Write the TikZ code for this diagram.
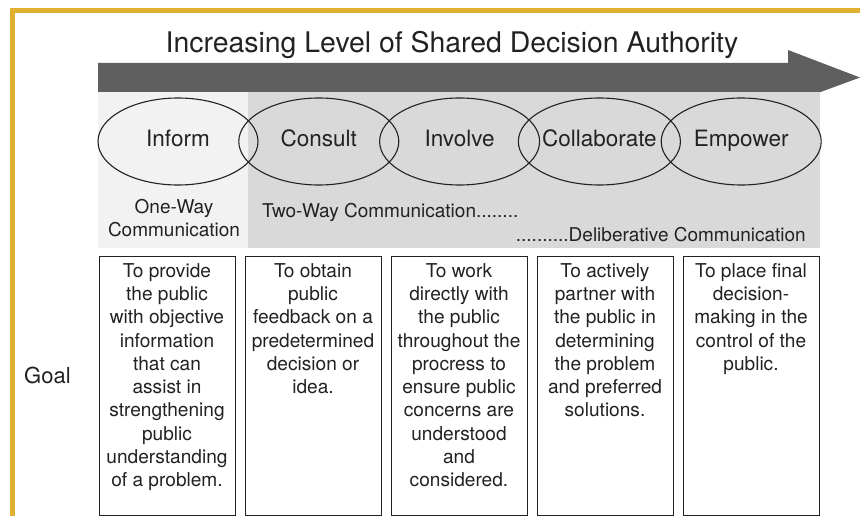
\documentclass[tikz,border=0pt]{standalone}
\usepackage{fontspec}
\setmainfont{TeX Gyre Heros}
\usetikzlibrary{shapes.geometric}
\definecolor{framegold}{HTML}{E0B032}
\definecolor{inkgray}{HTML}{222222}
\definecolor{arrowgray}{HTML}{5F5F5F}
\definecolor{panellight}{HTML}{F2F2F2}
\definecolor{paneldark}{HTML}{D9D9D9}
\tikzset{
  levelellipse/.style={ellipse, draw=inkgray, line width=1.1pt, minimum width=160pt,
    minimum height=87pt, inner sep=0pt, text=inkgray, text height=14pt, text depth=3pt,
    font=\fontsize{22.5}{26}\selectfont},
  goalbox/.style={rectangle, draw=inkgray, line width=1.2pt, anchor=north west,
    minimum width=136pt, minimum height=259pt, inner sep=0pt},
  goaltext/.style={anchor=north, align=center, inner sep=0pt, text=inkgray,
    font=\fontsize{19.1}{23.3}\selectfont},
  commtext/.style={inner sep=0pt, text=inkgray, font=\fontsize{19}{23}\selectfont},
}
\begin{document}
\begin{tikzpicture}[x=1pt,y=-1pt]
\useasboundingbox (0,0) rectangle (860,516);
\fill[white] (0,0) rectangle (860,516);
% gold frame, cut at the right and bottom edges
\draw[framegold, line width=5pt] (12.5,516) -- (12.5,10.5) -- (860,10.5);

% title
\node[anchor=base, inner sep=0pt, text=inkgray, font=\fontsize{28.4}{32}\selectfont]
  (title) at (452,53) {Increasing Level of Shared Decision Authority};

% big arrow
\fill[arrowgray] (98,63) -- (788,63) -- (788,50) -- (860,77.5) -- (788,104)
  -- (788,92) -- (98,92) -- cycle;

% background panels
\fill[panellight] (98,92) rectangle (248,248);
\fill[paneldark] (248,92) rectangle (820,248);

% levels
\node[levelellipse] (inform) at (178,141.5) {Inform};
\node[levelellipse] (consult) at (318.8,141.5) {Consult};
\node[levelellipse] (involve) at (459.6,141.5) {Involve};
\node[levelellipse] (collab) at (599.4,141.5) {Collaborate};
\node[levelellipse] (empower) at (741.2,141.5) {Empower};

% communication types
\node[commtext, align=center, anchor=north] (oneway) at (174,199)
  {One-Way\\Communication};
\node[commtext, anchor=base west] (twoway) at (262,218)
  {Two-Way Communication........};
\node[commtext, anchor=base east] (delib) at (806,241)
  {..........Deliberative Communication};

% goal row
\node[anchor=base west, inner sep=0pt, text=inkgray, font=\fontsize{22}{26}\selectfont]
  (goal) at (24,383) {Goal};

\node[goalbox] (box1) at (99,256) {};
\node[goalbox] (box2) at (245,256) {};
\node[goalbox] (box3) at (391,256) {};
\node[goalbox] (box4) at (537,256) {};
\node[goalbox] (box5) at (683,256) {};

\node[goaltext] (goal1) at (167,263) {To provide\\the public\\with objective\\information\\that can\\assist in\\strengthening\\public\\understanding\\of a problem.};
\node[goaltext] (goal2) at (313,263) {To obtain\\public\\feedback on a\\predetermined\\decision or\\idea.};
\node[goaltext] (goal3) at (459,263) {To work\\directly with\\the public\\throughout the\\procress to\\ensure public\\concerns are\\understood\\and\\considered.};
\node[goaltext] (goal4) at (605,263) {To actively\\partner with\\the public in\\determining\\the problem\\and preferred\\solutions.};
\node[goaltext] (goal5) at (751,263) {To place final\\decision-\\making in the\\control of the\\public.};
\end{tikzpicture}
\end{document}
